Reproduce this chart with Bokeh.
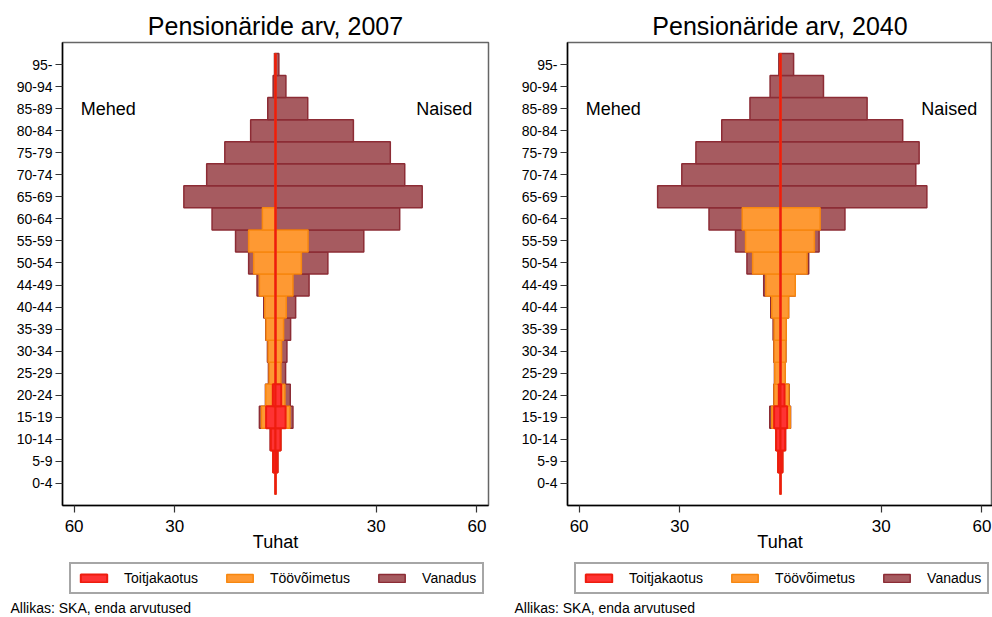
import numpy as np
from bokeh.plotting import figure
from bokeh.models import (Range1d, FixedTicker, Legend, LegendItem, Label)
from bokeh.layouts import row, column
from bokeh.embed import file_html
from bokeh.resources import INLINE

FONT = "Liberation Sans"

# ---------------- data (thousands of pensioners) ----------------
age_groups = ["0-4", "5-9", "10-14", "15-19", "20-24", "25-29", "30-34", "35-39",
              "40-44", "44-49", "50-54", "55-59", "60-64", "65-69", "70-74",
              "75-79", "80-84", "85-89", "90-94", "95-"]

series_names = ["Toitjakaotus", "Töövõimetus", "Vanadus"]

# 2007 - men (Mehed)
men_2007_toitjakaotus = [0, 0.7, 1.4, 2.8, 0.8, 0, 0, 0, 0, 0, 0, 0, 0, 0, 0, 0, 0, 0, 0, 0]
men_2007_toovoimetus = [0, 0, 0, 1.4, 2.1, 1.9, 2.2, 2.8, 3.2, 4.8, 6.5, 8.0, 3.9, 0, 0, 0, 0, 0, 0, 0]
men_2007_vanadus = [0, 0.1, 0.2, 0.6, 0.1, 0.2, 0.2, 0.1, 0.3, 0.7, 1.5, 3.9, 15.0, 27.3, 20.5, 15.1, 7.4, 2.3, 0.7, 0.3]
# 2007 - women (Naised)
women_2007_toitjakaotus = [0, 0.6, 1.5, 3.0, 1.7, 0, 0, 0, 0, 0, 0, 0, 0, 0, 0, 0, 0, 0, 0, 0]
women_2007_toovoimetus = [0, 0, 0, 1.3, 1.1, 1.6, 1.8, 2.4, 3.2, 5.2, 7.7, 9.7, 0, 0, 0, 0, 0, 0, 0, 0]
women_2007_vanadus = [0, 0.1, 0.1, 0.9, 1.6, 1.4, 1.6, 2.1, 2.8, 4.8, 7.9, 16.6, 37.0, 43.7, 38.5, 34.2, 23.2, 9.6, 3.1, 1.0]

# 2040 - men
men_2040_toitjakaotus = [0, 0.7, 1.3, 1.9, 0.5, 0, 0, 0, 0, 0, 0, 0, 0, 0, 0, 0, 0, 0, 0, 0]
men_2040_toovoimetus = [0, 0, 0, 0.7, 1.4, 1.7, 1.9, 1.9, 2.6, 4.4, 8.3, 10.4, 11.4, 0, 0, 0, 0, 0, 0, 0]
men_2040_vanadus = [0, 0.1, 0.1, 0.6, 0.1, 0.1, 0.1, 0.3, 0.3, 0.6, 1.7, 3.0, 9.9, 36.6, 29.4, 25.2, 17.5, 9.1, 3.1, 0.5]
# 2040 - women
women_2040_toitjakaotus = [0, 0.6, 1.4, 2.0, 1.2, 0, 0, 0, 0, 0, 0, 0, 0, 0, 0, 0, 0, 0, 0, 0]
women_2040_toovoimetus = [0, 0, 0, 0.9, 1.3, 1.4, 1.6, 1.7, 2.4, 4.4, 7.9, 10.1, 11.8, 0, 0, 0, 0, 0, 0, 0]
women_2040_vanadus = [0, 0, 0.1, 0.1, 0.1, 0, 0, 0, 0, 0, 0.5, 1.4, 7.4, 43.6, 40.3, 41.3, 36.4, 25.8, 12.8, 3.9]

x_tick_values = [-60, -30, 30, 60]
x_tick_labels = ["60", "30", "30", "60"]
note_text = "Allikas:  SKA, enda arvutused"

# ---------------- styling ----------------
FILL = {"Vanadus": "#a65b60", "Töövõimetus": "#fe9933", "Toitjakaotus": "#fe3333"}
LINE = {"Vanadus": "#8c2c35", "Töövõimetus": "#f7870f", "Toitjakaotus": "#ee1c0e"}
LW = {"Vanadus": 1.5, "Töövõimetus": 1.5, "Toitjakaotus": 2.0}

MAIN_H = 556
LEG_H = 61


def layers_of(men, women):
    m_t, m_o, m_v = (np.array(a, dtype=float) for a in men)
    w_t, w_o, w_v = (np.array(a, dtype=float) for a in women)
    # stacked from the centre, drawn as overlapping bars (largest first)
    return [
        ("Vanadus", m_t + m_o + m_v, w_t + w_o + w_v),
        ("Töövõimetus", m_t + m_o, w_t + w_o),
        ("Toitjakaotus", m_t, w_t),
    ]


def make_panel(year, men, women, width, border_left, border_right, x_start, x_end):
    p = figure(width=width, height=MAIN_H, output_backend="svg", toolbar_location=None,
               x_range=Range1d(x_start, x_end), y_range=Range1d(-1, 20),
               min_border_left=border_left, min_border_right=border_right,
               min_border_top=42, min_border_bottom=51)
    p.title.text = f"Pensionäride arv, {year}"
    p.title.align = "center"
    p.title.text_font = FONT
    p.title.text_font_size = "25px"
    p.title.text_font_style = "normal"
    p.title.text_color = "black"
    p.title.standoff = 5

    y = np.arange(len(age_groups))
    for name, mv, wv in layers_of(men, women):
        p.hbar(y=y, height=1.0, left=0, right=-mv, fill_color=FILL[name],
               line_color=LINE[name], line_width=LW[name])
        p.hbar(y=y, height=1.0, left=0, right=wv, fill_color=FILL[name],
               line_color=LINE[name], line_width=LW[name])

    p.xgrid.visible = False
    p.ygrid.visible = False
    p.outline_line_color = "#666666"
    p.outline_line_width = 1.5

    xa = p.xaxis[0]
    xa.ticker = FixedTicker(ticks=x_tick_values)
    xa.major_label_overrides = {v: l for v, l in zip(x_tick_values, x_tick_labels)}
    xa.axis_label = "Tuhat"
    xa.axis_label_text_font = FONT
    xa.axis_label_text_font_size = "18px"
    xa.axis_label_text_font_style = "normal"
    xa.axis_label_text_color = "black"
    xa.axis_label_standoff = -3
    xa.major_label_text_font = FONT
    xa.major_label_text_font_size = "17px"
    xa.major_label_text_color = "black"
    xa.major_label_standoff = 7
    xa.major_tick_out = 7
    xa.major_tick_in = 0
    xa.minor_tick_line_color = None
    xa.axis_line_color = "black"
    xa.axis_line_width = 1.5
    xa.major_tick_line_color = "#333333"
    xa.major_tick_line_width = 1.2

    ya = p.yaxis[0]
    ya.ticker = FixedTicker(ticks=list(range(len(age_groups))))
    ya.major_label_overrides = {i: g for i, g in enumerate(age_groups)}
    ya.major_label_text_font = FONT
    ya.major_label_text_font_size = "14px"
    ya.major_label_text_color = "black"
    ya.major_label_standoff = 3
    ya.major_tick_out = 7
    ya.major_tick_in = 0
    ya.minor_tick_line_color = None
    ya.axis_line_color = "black"
    ya.axis_line_width = 1.5
    ya.major_tick_line_color = "#333333"
    ya.major_tick_line_width = 1.2

    p.add_layout(Label(x=-58, y=17, text="Mehed", text_align="left", text_baseline="middle",
                       text_font=FONT, text_font_size="18px", text_color="black"))
    p.add_layout(Label(x=58.6, y=17, text="Naised", text_align="right", text_baseline="middle",
                       text_font=FONT, text_font_size="18px", text_color="black"))
    return p


def make_legend_panel(men, women, width, legend_left, note_left):
    # a strip under each panel holding the legend box and the source note
    f = figure(width=width, height=LEG_H, output_backend="svg", toolbar_location=None,
               x_range=Range1d(0, width), y_range=Range1d(0, LEG_H),
               min_border_left=0, min_border_right=0, min_border_top=0, min_border_bottom=0,
               x_axis_type=None, y_axis_type=None)
    f.outline_line_color = None
    f.xgrid.visible = False
    f.ygrid.visible = False
    y = np.arange(len(age_groups))
    rends = {}
    for name, mv, wv in layers_of(men, women):
        # hidden copies of the series: they only lend their style to the legend
        rends[name] = f.hbar(y=y, height=1.0, left=0, right=wv, fill_color=FILL[name],
                             line_color=LINE[name], line_width=LW[name], visible=False)
    legend = Legend(items=[LegendItem(label=n, renderers=[rends[n]]) for n in series_names],
                    orientation="horizontal", location=(legend_left, 23),
                    label_text_font=FONT, label_text_font_size="14px", label_text_color="black",
                    glyph_width=33, glyph_height=10, label_standoff=14, spacing=25,
                    padding=6, label_height=14, margin=0,
                    border_line_color="#4d4d4d", border_line_width=2,
                    background_fill_color="white",
                    inactive_fill_alpha=0)
    f.add_layout(legend)
    f.add_layout(Label(x=note_left, y=2, text=note_text, text_align="left",
                       text_baseline="bottom", text_font=FONT, text_font_size="14px",
                       text_color="black"))
    return f


PX_PER_UNIT = 3.357
W1 = 510
men07 = (men_2007_toitjakaotus, men_2007_toovoimetus, men_2007_vanadus)
women07 = (women_2007_toitjakaotus, women_2007_toovoimetus, women_2007_vanadus)
men40 = (men_2040_toitjakaotus, men_2040_toovoimetus, men_2040_vanadus)
women40 = (women_2040_toitjakaotus, women_2040_toovoimetus, women_2040_vanadus)

p1 = make_panel(2007, men07, women07, width=W1, border_left=62, border_right=22,
                x_start=-213 / PX_PER_UNIT, x_end=213 / PX_PER_UNIT)
p2 = make_panel(2040, men40, women40, width=992 - W1, border_left=57, border_right=0,
                x_start=-213 / PX_PER_UNIT, x_end=212 / PX_PER_UNIT)

l1 = make_legend_panel(men07, women07, W1, legend_left=69, note_left=10)
l2 = make_legend_panel(men40, women40, 992 - W1, legend_left=64, note_left=4)

layout = column(row(p1, p2), row(l1, l2))
open("out.html", "w").write(file_html(layout, INLINE))
